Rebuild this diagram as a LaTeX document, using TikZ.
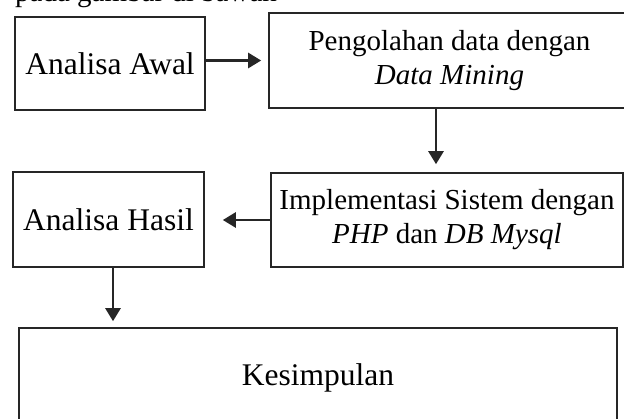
\documentclass[tikz,border=0pt]{standalone}
\usepackage{fontspec}
\setmainfont{Liberation Serif}
\usetikzlibrary{arrows.meta,calc}
\begin{document}
\begin{tikzpicture}[x=1pt,y=-1pt,
  box/.style={draw=black!85, line width=1.6pt, inner sep=0pt, align=center},
  big/.style={font=\fontsize{31.5}{36}\selectfont},
  two/.style={font=\fontsize{29}{34}\selectfont},
  arr/.style={draw=black!85, line width=2.6pt, -{Triangle[length=13pt,width=15pt]}}]
\useasboundingbox (0,0) rectangle (624,418);
\clip (0,0) rectangle (624,418);
\node[anchor=base west, font=\fontsize{29}{34}\selectfont, inner sep=0pt] (top) at (15,1) {pada gambar di bawah};
\node[box,big,minimum width=190pt,minimum height=93pt] (awal) at (110,63.5) {Analisa Awal};
\node[box,two,minimum width=361pt,minimum height=95pt] (olah) at (449.5,60.5) {Pengolahan data dengan\\\textit{Data Mining}};
\node[box,two,minimum width=352pt,minimum height=94pt] (impl) at (447,220) {Implementasi Sistem dengan\\\textit{PHP} dan \textit{DB Mysql}};
\node[box,big,minimum width=191pt,minimum height=95pt] (hasil) at (108.5,219.5) {Analisa Hasil};
\node[box,big,minimum width=598pt,minimum height=100pt] (kes) at (318,378) {Kesimpulan};
\draw[arr, shorten >=7pt] (olah.west -| awal.east) -- (olah.west);
\draw[arr, shorten >=8pt] ([xshift=-13.5pt]olah.south) -- ([xshift=-13.5pt]olah.south |- impl.north);
\draw[arr, shorten >=18pt] (impl.west) -- (impl.west -| hasil.east);
\draw[arr, shorten >=6pt] ([xshift=4.5pt]hasil.south) -- ([xshift=4.5pt]hasil.south |- kes.north);
\end{tikzpicture}
\end{document}
